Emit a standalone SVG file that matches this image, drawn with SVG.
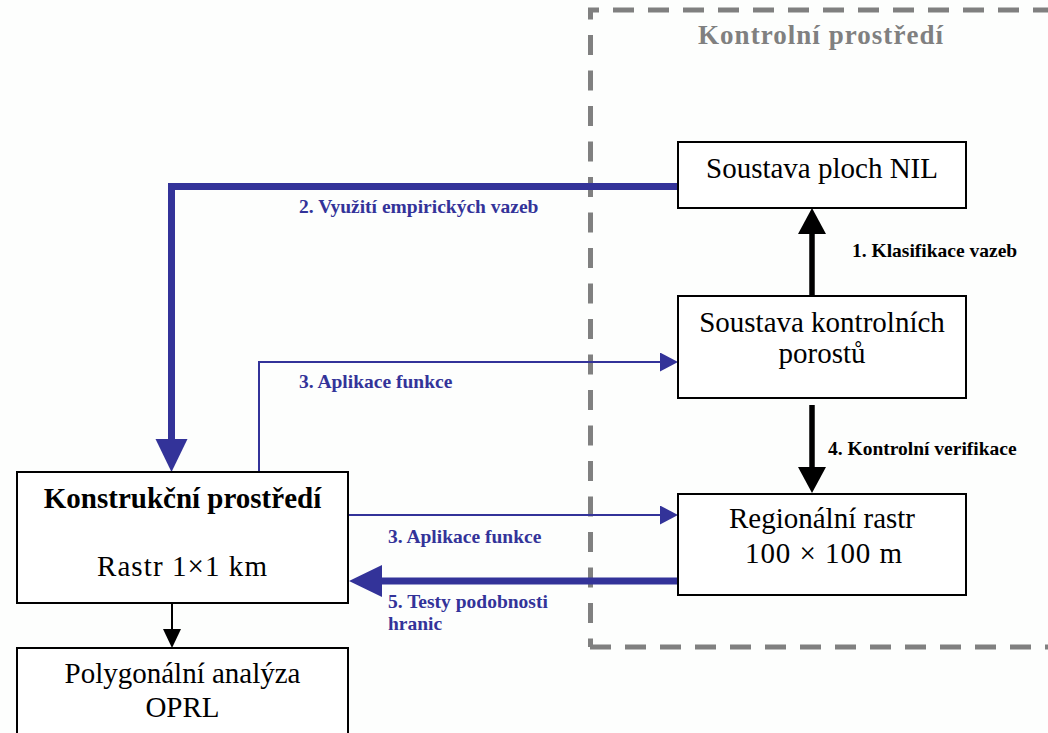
<svg xmlns="http://www.w3.org/2000/svg" width="1048" height="733" viewBox="0 0 1048 733">
  <style>
    .box { fill: #ffffff; stroke: #000000; stroke-width: 2; }
    .node { font-family: "Liberation Serif", "Times New Roman", serif; font-size: 29px; fill: #000000; text-anchor: middle; }
    .bold { font-weight: bold; }
    .lbl { font-family: "Liberation Serif", "Times New Roman", serif; font-size: 19.5px; font-weight: bold; }
    .blue { fill: #333399; }
    .blk { fill: #000000; }
    .zone { stroke: #808080; stroke-width: 5; fill: none; }
    .lineBlueThick { stroke: #333399; stroke-width: 7; fill: none; }
    .lineBlueThin { stroke: #333399; stroke-width: 2; fill: none; }
    .lineBlackThick { stroke: #000000; stroke-width: 5.5; fill: none; }
    .lineBlackThin { stroke: #000000; stroke-width: 2; fill: none; }
  </style>
  <defs>
    <marker id="ahBlueLg" markerUnits="userSpaceOnUse" markerWidth="34" markerHeight="33" refX="0" refY="16" orient="auto">
      <path d="M0,0 L33,16 L0,32 Z" fill="#333399"/>
    </marker>
    <marker id="ahBlueSm" markerUnits="userSpaceOnUse" markerWidth="19" markerHeight="20" refX="0" refY="9.5" orient="auto">
      <path d="M0,0 L18,9.5 L0,19 Z" fill="#333399"/>
    </marker>
    <marker id="ahBlackLg" markerUnits="userSpaceOnUse" markerWidth="27" markerHeight="29" refX="0" refY="14" orient="auto">
      <path d="M0,0 L26,14 L0,28 Z" fill="#000000"/>
    </marker>
    <marker id="ahBlackSm" markerUnits="userSpaceOnUse" markerWidth="20" markerHeight="19" refX="0" refY="9" orient="auto">
      <path d="M0,0 L19,9 L0,18 Z" fill="#000000"/>
    </marker>
  </defs>

  <rect x="0" y="0" width="1048" height="733" fill="#fdfefd"/>

  <!-- control environment zone (dashed frame) -->
  <g id="zone-kontrolni">
    <line class="zone" x1="590.5" y1="10" x2="590.5" y2="647" stroke-dasharray="20 15.5" stroke-dashoffset="10.5"/>
    <line class="zone" x1="588" y1="10" x2="1048" y2="10" stroke-dasharray="21 14" stroke-dashoffset="10"/>
    <line class="zone" x1="588" y1="647" x2="1048" y2="647" stroke-dasharray="21 14" stroke-dashoffset="-2"/>
    <text x="698" y="44" font-family="Liberation Serif, Times New Roman, serif" font-size="27" font-weight="bold" fill="#808080" textLength="245" lengthAdjust="spacing">Kontrolní prostředí</text>
  </g>

  <!-- connectors -->
  <g id="connectors">
    <path class="lineBlueThick" d="M678,186.5 H171.5 V439" marker-end="url(#ahBlueLg)"/>
    <path class="lineBlueThin" d="M259,472 V362 H660" marker-end="url(#ahBlueSm)"/>
    <path class="lineBlueThin" d="M348,515 H660" marker-end="url(#ahBlueSm)"/>
    <path class="lineBlueThick" d="M678,581 H382" marker-end="url(#ahBlueLg)"/>
    <path class="lineBlackThick" d="M812,296 V234" marker-end="url(#ahBlackLg)"/>
    <path class="lineBlackThick" d="M812,405 V467" marker-end="url(#ahBlackLg)"/>
    <path class="lineBlackThin" d="M172,603 V629" marker-end="url(#ahBlackSm)"/>

    <text class="lbl blue" x="299" y="213">2. Využití empirických vazeb</text>
    <text class="lbl blue" x="299" y="388">3. Aplikace funkce</text>
    <text class="lbl blk" x="852" y="257">1. Klasifikace vazeb</text>
    <text class="lbl blk" x="828" y="455">4. Kontrolní verifikace</text>
    <text class="lbl blue" x="388" y="543">3. Aplikace funkce</text>
    <text class="lbl blue" x="388" y="608">5. Testy podobnosti</text>
    <text class="lbl blue" x="388" y="630">hranic</text>
  </g>

  <g id="node-nil">
    <rect class="box" x="678" y="142" width="288" height="66"/>
    <text class="node" x="822" y="178">Soustava ploch NIL</text>
  </g>

  <g id="node-porosty">
    <rect class="box" x="678" y="296" width="288" height="102"/>
    <text class="node" x="822" y="332">Soustava kontrolních</text>
    <text class="node" x="822" y="363">porostů</text>
  </g>

  <g id="node-regionalni">
    <rect class="box" x="678" y="494" width="288" height="101"/>
    <text class="node" x="822" y="528">Regionální rastr</text>
    <text class="node" x="823.5" y="563" textLength="157" lengthAdjust="spacing">100 × 100 m</text>
  </g>

  <g id="node-konstrukcni">
    <rect class="box" x="17" y="472" width="331" height="131"/>
    <text class="node bold" x="182.5" y="508">Konstrukční prostředí</text>
    <text class="node" x="182" y="576" textLength="170" lengthAdjust="spacing">Rastr 1×1 km</text>
  </g>

  <g id="node-polygonalni">
    <rect class="box" x="17" y="648" width="331" height="95"/>
    <text class="node" x="182.5" y="683">Polygonální analýza</text>
    <text class="node" x="182.5" y="717">OPRL</text>
  </g>
</svg>
